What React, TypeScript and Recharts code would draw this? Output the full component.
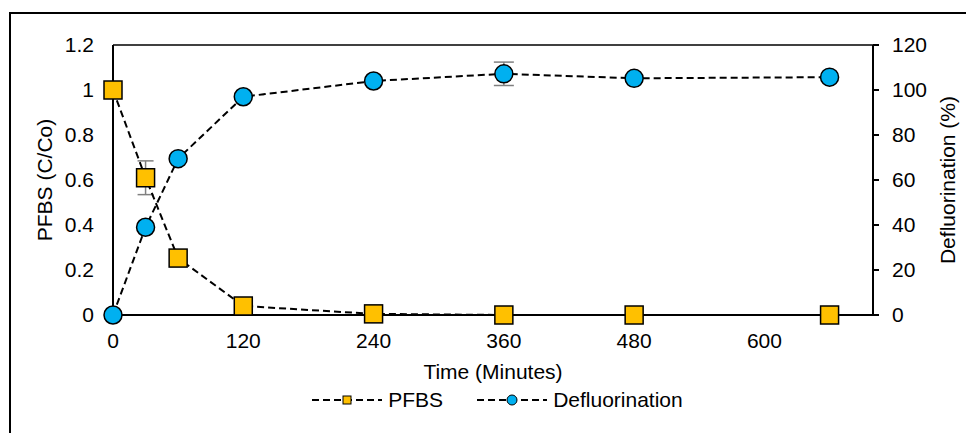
import {
  ComposedChart,
  Line,
  XAxis,
  YAxis,
  ErrorBar,
  Legend,
  ReferenceLine
} from 'recharts';

const times = [0, 30, 60, 120, 240, 360, 480, 660];
const pfbs = [1.0, 0.61, 0.253, 0.04, 0.005, 0, 0, 0];
const pfbsErr = [0, 0.075, 0, 0, 0, 0, 0, 0];
const defluorination = [0, 39, 69.5, 97, 104, 107.2, 105.2, 105.7];
const defluorinationErr = [0, 0, 0, 0, 0, 5.2, 0, 0];

const xTicks = [0, 120, 240, 360, 480, 600];
const leftTicks = [0, 0.2, 0.4, 0.6, 0.8, 1, 1.2];
const rightTicks = [0, 20, 40, 60, 80, 100, 120];

const PFBS_COLOR = '#FFC000';
const DEF_COLOR = '#00B0F0';
const FONT = '"Liberation Sans", Arial, sans-serif';
const FS = 21;

const data = times.map((t, i) => ({
  time: t,
  pfbs: pfbs[i],
  pfbsErr: pfbsErr[i],
  def: defluorination[i],
  defErr: defluorinationErr[i]
}));

const tickStyle = { fontSize: FS, fill: '#000', fontFamily: FONT };

function SquareDot(props: any) {
  const { cx, cy, index } = props;
  if (cx == null || cy == null) return <g key={`sq-${index}`} />;
  return (
    <rect
      key={`sq-${index}`}
      x={cx - 9}
      y={cy - 9}
      width={18}
      height={18}
      fill={PFBS_COLOR}
      stroke="#000"
      strokeWidth={1.5}
    />
  );
}

function Swatch({ kind }: { kind: 'square' | 'circle' }) {
  return (
    <svg width={70} height={16} style={{ display: 'block' }}>
      <line x1={0} y1={8} x2={70} y2={8} stroke="#000" strokeWidth={2} strokeDasharray="7 4" />
      {kind === 'square' ? (
        <rect x={31} y={4} width={8} height={8} fill={PFBS_COLOR} stroke="#000" strokeWidth={1} />
      ) : (
        <circle cx={35} cy={8} r={5} fill={DEF_COLOR} stroke="#000" strokeWidth={1} />
      )}
    </svg>
  );
}

function ChartLegend() {
  return (
    <div
      style={{
        display: 'flex',
        justifyContent: 'center',
        alignItems: 'center',
        paddingLeft: 18,
        fontFamily: FONT,
        fontSize: FS,
        color: '#000'
      }}
    >
      <Swatch kind="square" />
      <span style={{ marginLeft: 6, marginRight: 34 }}>PFBS</span>
      <Swatch kind="circle" />
      <span style={{ marginLeft: 6 }}>Defluorination</span>
    </div>
  );
}

export default function App() {
  return (
    <div
      style={{
        position: 'fixed',
        left: 9,
        top: 12,
        width: 957,
        height: 421,
        borderLeft: '2px solid #000',
        borderTop: '2px solid #000',
        background: '#fff',
        overflow: 'hidden'
      }}
    >
      <ComposedChart
        width={955}
        height={419}
        data={data}
        margin={{ top: 31, right: 13, bottom: 58, left: 30 }}
      >
        <XAxis
          dataKey="time"
          type="number"
          domain={[0, 700]}
          ticks={xTicks}
          tick={tickStyle}
          tickLine={false}
          tickSize={6}
          tickMargin={12}
          axisLine={{ stroke: '#000', strokeWidth: 2 }}
          height={60}
          label={{
            value: 'Time (Minutes)',
            position: 'insideTop',
            offset: 49,
            style: { fontSize: FS, fill: '#000', fontFamily: FONT }
          }}
        />
        <YAxis
          yAxisId="left"
          domain={[0, 1.2]}
          ticks={leftTicks}
          tick={tickStyle}
          tickFormatter={(v) => String(v)}
          tickLine={false}
          tickSize={6}
          tickMargin={13}
          axisLine={{ stroke: '#000', strokeWidth: 2 }}
          width={72}
          label={{
            value: 'PFBS (C/Co)',
            angle: -90,
            position: 'insideLeft',
            offset: 4,
            style: { textAnchor: 'middle', fontSize: FS, fill: '#000', fontFamily: FONT }
          }}
        />
        <YAxis
          yAxisId="right"
          orientation="right"
          domain={[0, 120]}
          ticks={rightTicks}
          tick={tickStyle}
          tickLine={{ stroke: '#000', strokeWidth: 2 }}
          tickSize={6}
          tickMargin={13}
          axisLine={{ stroke: '#000', strokeWidth: 2 }}
          width={80}
          label={{
            value: 'Defluorination (%)',
            angle: -90,
            position: 'insideRight',
            offset: 5,
            style: { textAnchor: 'middle', fontSize: FS, fill: '#000', fontFamily: FONT }
          }}
        />
        <ReferenceLine yAxisId="left" y={1.2} stroke="#000" strokeWidth={1.5} />
        <Line
          yAxisId="left"
          type="linear"
          dataKey="pfbs"
          stroke="#000"
          strokeWidth={2}
          strokeDasharray="7 4"
          dot={SquareDot}
          activeDot={false}
          isAnimationActive={false}
        >
          <ErrorBar dataKey="pfbsErr" width={8} stroke="#808080" strokeWidth={1.5} direction="y" />
        </Line>
        <Line
          yAxisId="right"
          type="linear"
          dataKey="def"
          stroke="#000"
          strokeWidth={2}
          strokeDasharray="7 4"
          dot={{ r: 9, fill: DEF_COLOR, stroke: '#000', strokeWidth: 1.5, strokeDasharray: '' }}
          activeDot={false}
          isAnimationActive={false}
        >
          <ErrorBar dataKey="defErr" width={10} stroke="#808080" strokeWidth={1.5} direction="y" />
        </Line>
        <Legend
          layout="horizontal"
          verticalAlign="middle"
          align="center"
          content={() => <ChartLegend />}
          wrapperStyle={{ top: 374, left: 0, width: 955 }}
        />
      </ComposedChart>
    </div>
  );
}
